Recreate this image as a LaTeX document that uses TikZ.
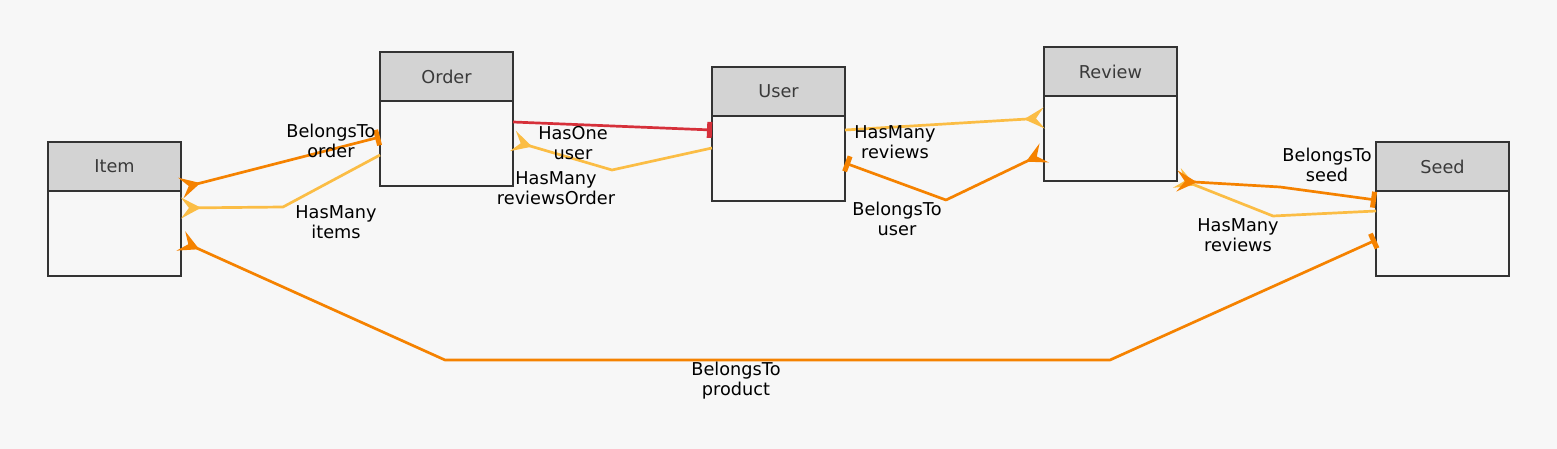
\documentclass[tikz,border=0pt]{standalone}
\usepackage{fontspec}
\setmainfont{DejaVu Sans}
\usetikzlibrary{arrows.meta}
\definecolor{bgc}{HTML}{F7F7F7}
\definecolor{btc}{HTML}{F58200}
\definecolor{hmc}{HTML}{FBBD45}
\definecolor{hoc}{HTML}{D6303A}
\definecolor{hdc}{HTML}{D3D3D3}
\definecolor{bdc}{HTML}{333333}
\definecolor{tgc}{HTML}{3A3A3A}
\begin{document}
\begin{tikzpicture}[x=1pt,y=-1pt,
  lbl/.style={font=\fontsize{17.7}{20}\selectfont, align=center, inner sep=0pt, text=black},
  hdr/.style={draw=bdc, line width=1.3pt, fill=hdc, minimum width=133pt, minimum height=49pt, inner sep=0pt, outer sep=0pt, text=tgc, font=\fontsize{17.7}{20}\selectfont},
  bdy/.style={draw=bdc, line width=1.3pt, fill=bgc, minimum width=133pt, minimum height=85pt, inner sep=0pt, outer sep=0pt},
  crowtip/.tip={Stealth[reversed,length=20pt,width=21pt,inset=8pt]},
  teetip/.tip={Rectangle[length=5pt,width=16pt]},
  edgeline/.style={line width=2.7pt, line join=round},
  btl/.style={edgeline, draw=btc},
  hml/.style={edgeline, draw=hmc},
  hol/.style={edgeline, draw=hoc}]
\fill[bgc] (0,0) rectangle (1557,449);
\useasboundingbox (0,0) rectangle (1557,449);

% entities
\node[hdr] (itemh) at (114.5,166.5) {Item};
\node[bdy] (itemb) at (114.5,233.5) {};
\node[hdr] (orderh) at (446.5,76.5) {Order};
\node[bdy] (orderb) at (446.5,143.5) {};
\node[hdr] (userh) at (778.5,91.5) {User};
\node[bdy] (userb) at (778.5,158.5) {};
\node[hdr] (reviewh) at (1110.5,71.5) {Review};
\node[bdy] (reviewb) at (1110.5,138.5) {};
\node[hdr] (seedh) at (1442.5,166.5) {Seed};
\node[bdy] (seedb) at (1442.5,233.5) {};

% bend points
\coordinate (b2) at (283,207);
\coordinate (b3a) at (445,360);
\coordinate (b3b) at (1110,360);
\coordinate (b5) at (612,170);
\coordinate (b7) at (946,200);
\coordinate (b8) at (1280,187);
\coordinate (b9) at (1273,216);

% Item -> Order : BelongsTo order
\draw[btl, {crowtip}-{teetip}] ([yshift=3pt]itemb.north east) -- ([yshift=-36pt]orderb.north west);
% Order -> Item : HasMany items
\draw[hml, -{crowtip}] ([yshift=-54pt]orderb.north west) -- (b2) -- ([yshift=-17pt]itemb.north east);
% Item -> Seed : BelongsTo product
\draw[btl, {crowtip}-{teetip}] ([yshift=-50pt]itemb.north east) -- (b3a) -- (b3b) -- ([yshift=-49pt]seedb.north west);
% Order -> User : HasOne user
\draw[hol, -{teetip}] ([yshift=-21pt]orderb.north east) -- ([yshift=-14pt]userb.north west);
% User -> Order : HasMany reviewsOrder
\draw[hml, -{crowtip}] ([yshift=-32pt]userb.north west) -- (b5) -- ([yshift=-40pt]orderb.north east);
% User -> Review : HasMany reviews
\draw[hml, -{crowtip}] ([yshift=-14pt]userb.north east) -- ([yshift=-22pt]reviewb.north west);
% Review -> User : BelongsTo user
\draw[btl, {crowtip}-{teetip}] ([yshift=-57pt]reviewb.north west) -- (b7) -- ([yshift=-47pt]userb.north east);
% Seed -> Review : HasMany reviews
\draw[hml, -{crowtip}] ([yshift=-20pt]seedb.north west) -- (b9) -- ([yshift=3pt]reviewb.south east);
% Review -> Seed : BelongsTo seed
\draw[btl, {crowtip}-{teetip}] (reviewb.south east) -- (b8) -- ([yshift=-9pt]seedb.north west);

% labels
\node[lbl] (l1) at (331,144) {\strut BelongsTo\\\strut order};
\node[lbl] (l2) at (336,224) {\strut HasMany\\\strut items};
\node[lbl] (l3) at (736,381.5) {\strut BelongsTo\\\strut product};
\node[lbl] (l4) at (573,146) {\strut HasOne\\\strut user};
\node[lbl] (l5) at (556,190.5) {\strut HasMany\\\strut reviewsOrder};
\node[lbl] (l6) at (895,145) {\strut HasMany\\\strut reviews};
\node[lbl] (l7) at (897,221.5) {\strut BelongsTo\\\strut user};
\node[lbl] (l8) at (1327,168) {\strut BelongsTo\\\strut seed};
\node[lbl] (l9) at (1238,237) {\strut HasMany\\\strut reviews};
\end{tikzpicture}
\end{document}
